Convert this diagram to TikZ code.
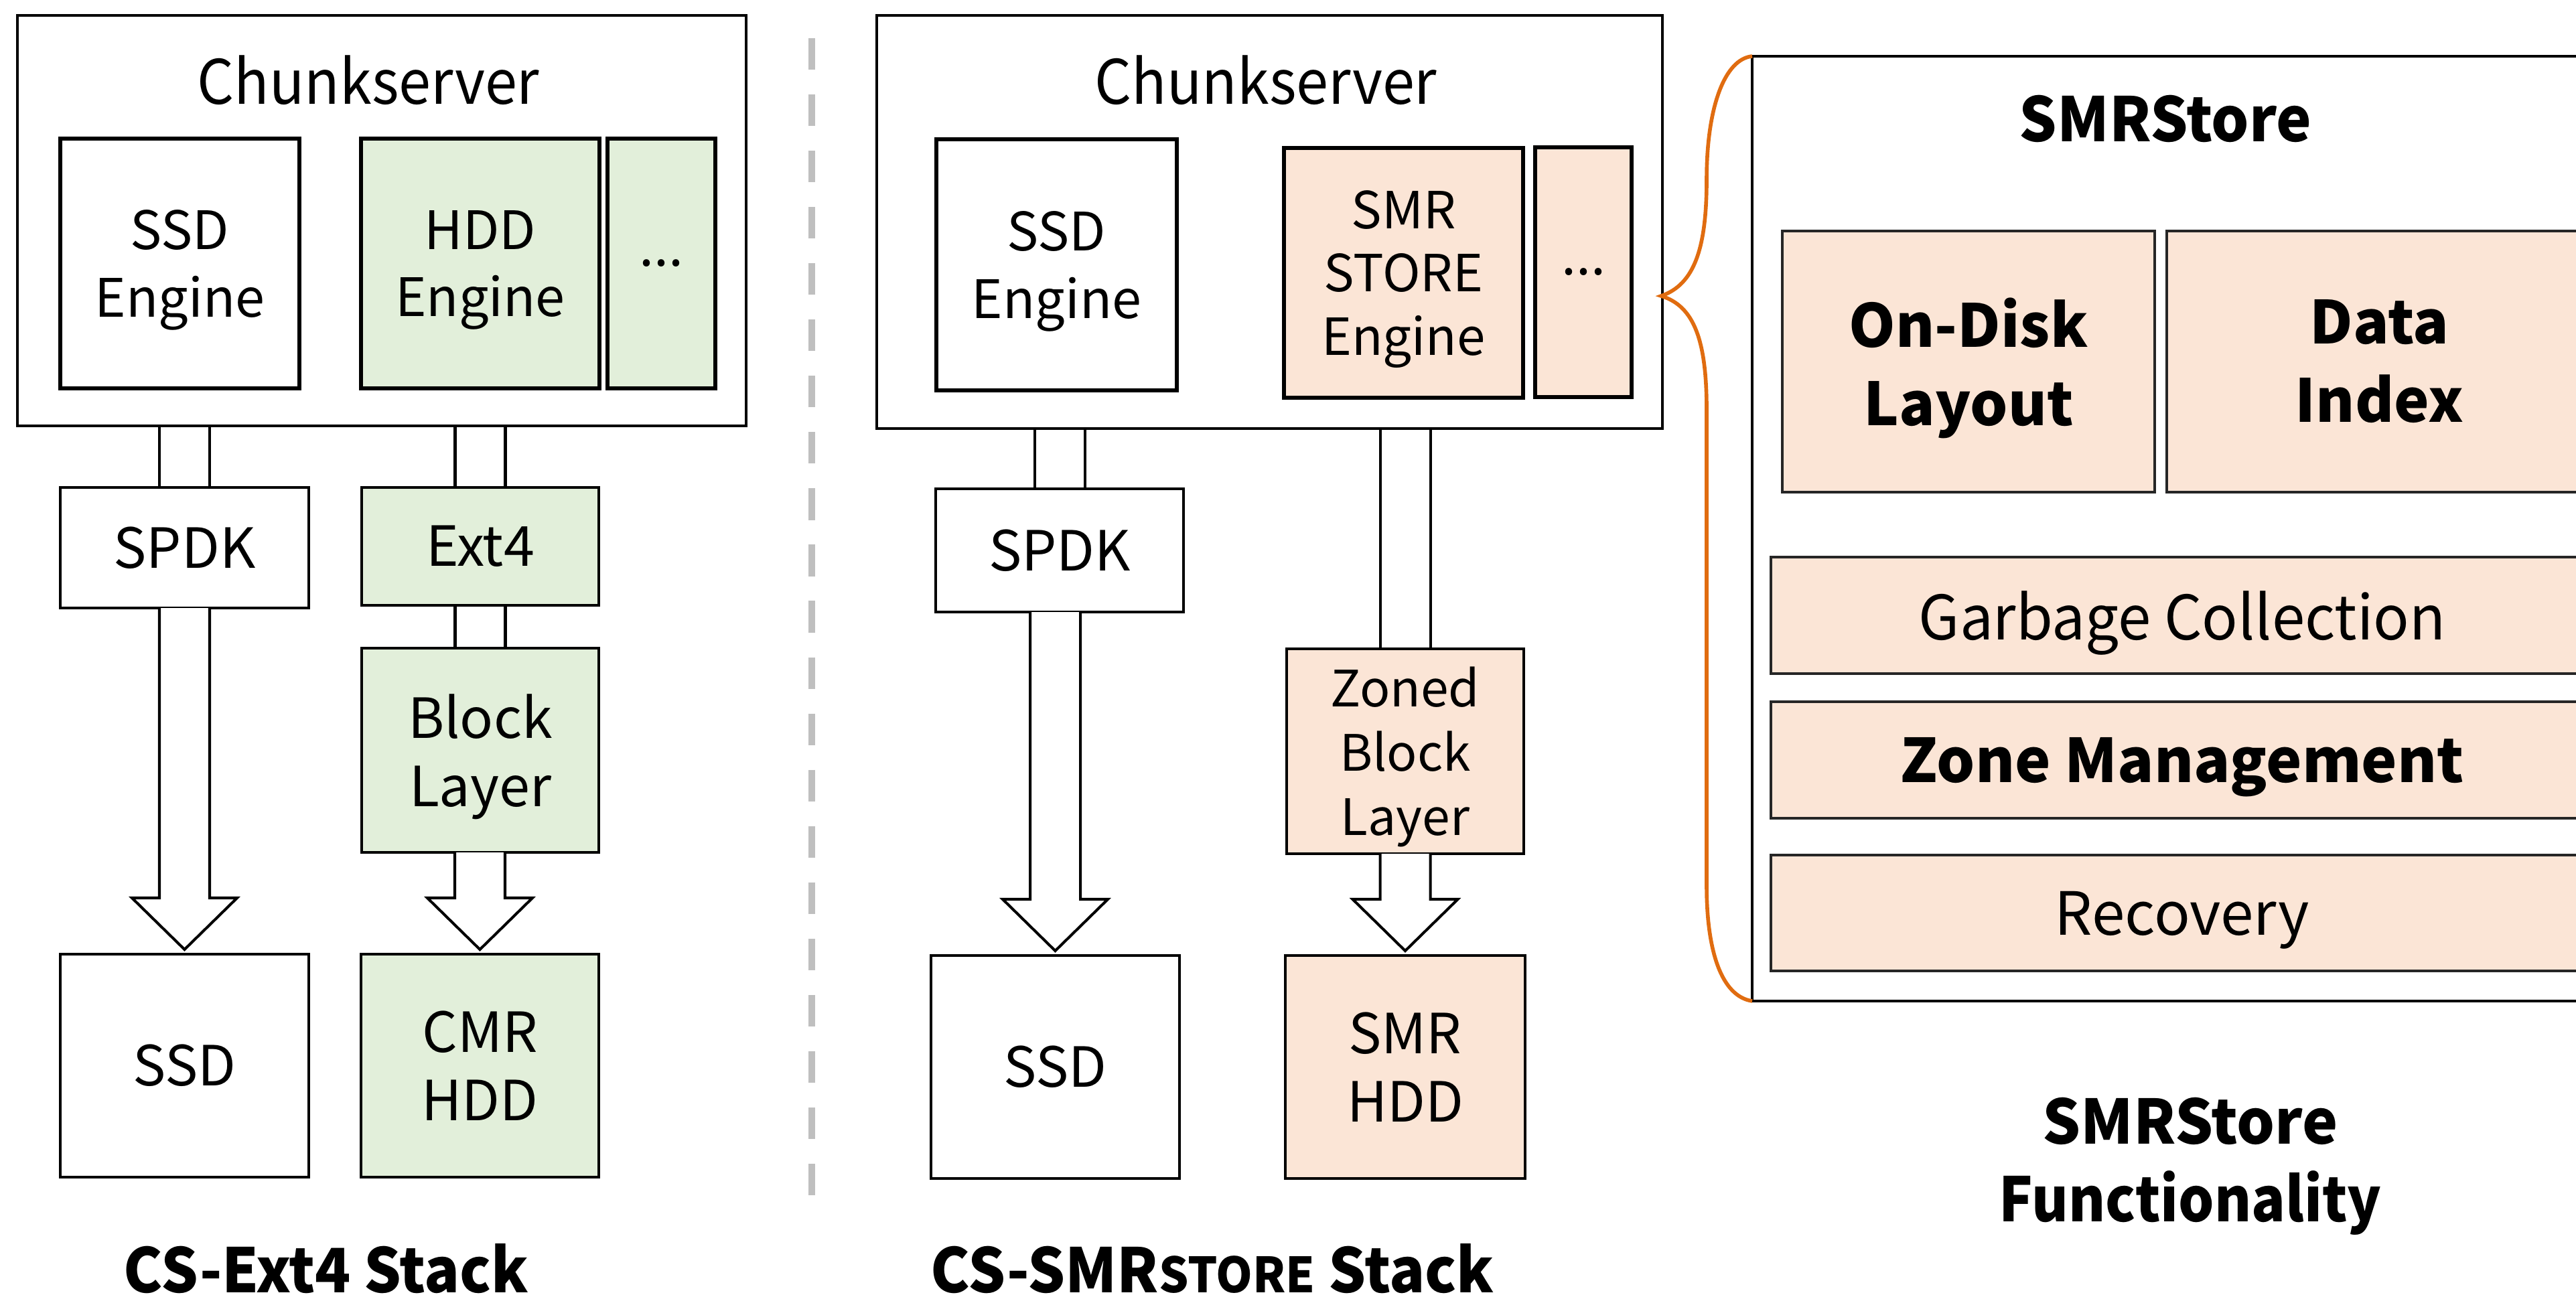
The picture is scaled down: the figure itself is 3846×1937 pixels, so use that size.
\documentclass[tikz,border=0pt]{standalone}
\usepackage{fontspec}
\setmainfont{Noto Sans CJK SC}
\usetikzlibrary{calc}

\definecolor{hddgreen}{RGB}{226,239,218}
\definecolor{smrpeach}{RGB}{251,229,214}
\definecolor{braceorange}{RGB}{224,108,16}
\definecolor{sepgray}{RGB}{191,191,191}
\definecolor{panelline}{RGB}{38,38,38}

\newcommand\fs[2]{\fontsize{#1}{#2}\selectfont}
\newcommand\narrow[2]{\scalebox{#1}[1]{#2}}

% box from corner (#2,#3) to corner (#4,#5), style #6, text #7
\newcommand\blk[7]{\node[#6,minimum width={((#4)-(#2))*0.01cm},minimum height={((#5)-(#3))*0.01cm}] (#1) at ({((#2)+(#4))/2},{((#3)+(#5))/2}) {#7};}

% two parallel lines joining the bottom of #1 to the top of #2
\newcommand\pipe[2]{%
  \draw[pipeline] ($(#1.south -| #2.north)+(-37.5,0)$) -- ($(#2.north)+(-37.5,0)$)
                  ($(#1.south -| #2.north)+(37.5,0)$) -- ($(#2.north)+(37.5,0)$);}

% hollow block arrow from the bottom of #1 to just above #2
\newcommand\fatarrow[2]{%
  \draw[blockarrow] ($(#1.south -| #2.north)+(-37.5,0)$) -- ($(#2.north)+(-37.5,-84)$)
     -- ($(#2.north)+(-78.5,-84)$) -- ($(#2.north)+(0,-7)$) -- ($(#2.north)+(78.5,-84)$)
     -- ($(#2.north)+(37.5,-84)$) -- ($(#1.south -| #2.north)+(37.5,0)$);}

\tikzset{
  every node/.style={inner sep=0pt, outer sep=0pt},
  frame/.style={draw, line width=1.3pt},
  engine/.style={draw, line width=1.6pt, align=center, font=\fs{22.5}{28.5}},
  layerbox/.style={draw, line width=1.15pt, align=center, font=\fs{23.5}{29}},
  greenfill/.style={fill=hddgreen},
  peachfill/.style={fill=smrpeach},
  featbox/.style={draw=panelline, line width=1pt, fill=smrpeach, align=center},
  desc/.style={text depth=0pt},
  pipeline/.style={line width=1.15pt},
  blockarrow/.style={line width=1.15pt, fill=white, line join=miter},
  title/.style={font=\fs{26}{30}, anchor=base},
  caption/.style={font=\bfseries\fs{26}{33}, align=center},
  separator/.style={draw=sepgray, line width=3.1pt, dash pattern=on 13.4pt off 10.5pt},
  brace/.style={draw=braceorange, line width=1.6pt},
}

\begin{document}
\begin{tikzpicture}[x=0.01cm, y=-0.01cm]
\useasboundingbox (0,0) rectangle (3846,1937);
\clip (0,0) rectangle (3846,1937);

% ---------- CS-Ext4 stack ----------
\blk{csL}{26}{23}{1114}{636}{frame}{}
\node[title] (csLt) at (550,156) {\narrow{0.945}{Chunkserver}};
\blk{ssdEngL}{90}{207}{447}{580}{engine,desc}{SSD\\Engine}
\blk{hddEngL}{539}{207}{895}{580}{engine,greenfill,desc}{HDD\\Engine}
\blk{dotsL}{907}{207}{1068}{580}{engine,greenfill}{...}
\blk{spdkL}{90}{728}{461}{908}{layerbox}{SPDK}
\blk{ext4L}{540}{728}{894}{904}{layerbox,greenfill}{Ext4}
\blk{blockL}{540}{968}{894}{1273}{layerbox,greenfill,desc}{Block\\Layer}
\blk{ssdL}{90}{1425}{461}{1758}{layerbox}{SSD}
\blk{cmrL}{539}{1425}{894}{1758}{layerbox,greenfill}{CMR\\HDD}

\pipe{csL}{spdkL}
\pipe{csL}{ext4L}
\pipe{ext4L}{blockL}
\fatarrow{spdkL}{ssdL}
\fatarrow{blockL}{cmrL}

\node[caption, anchor=base] (lblL) at (487,1930) {\narrow{0.957}{CS-Ext4 Stack}};

% ---------- separator ----------
\coordinate (sepTop) at (1212,57);
\coordinate (sepBot) at (1212,1785);
\draw[separator] (sepTop) -- (sepBot);

% ---------- CS-SMRstore stack ----------
\blk{csM}{1309}{23}{2482}{640}{frame}{}
\node[title] (csMt) at (1890,156) {\narrow{0.945}{Chunkserver}};
\blk{ssdEngM}{1398}{208}{1757}{583}{engine,desc}{SSD\\Engine}
\blk{smrEngM}{1917}{221}{2274}{594}{engine,peachfill,desc,font=\fs{21.7}{26.8}}{SMR\\STORE\\Engine}
\blk{dotsM}{2292}{220}{2436}{593}{engine,peachfill}{...}
\blk{spdkM}{1397}{730}{1767}{914}{layerbox}{SPDK}
\blk{zbl}{1921}{969}{2275}{1275}{layerbox,peachfill,desc,font=\fs{21.3}{27.3}}{Zoned\\Block\\Layer}
\blk{ssdM}{1390}{1427}{1761}{1760}{layerbox}{SSD}
\blk{smrHdd}{1919}{1427}{2277}{1760}{layerbox,peachfill}{SMR\\HDD}

\pipe{csM}{spdkM}
\pipe{csM}{zbl}
\fatarrow{spdkM}{ssdM}
\fatarrow{zbl}{smrHdd}

\node[caption, anchor=base] (lblM) at (1810,1930) {\narrow{0.963}{CS-SMR{\fs{20.6}{24}STORE} Stack}};

% ---------- SMRStore functionality ----------
\blk{panel}{2616}{84}{3900}{1495}{draw, line width=1.1pt}{}
\node[font=\bfseries\fs{26}{30}, anchor=base] (panelt) at (3233,212) {\narrow{0.97}{SMRStore}};
\blk{layout}{2661}{345}{3217}{735}{featbox,desc,font=\bfseries\fs{25.2}{33.3}}{On-Disk\\Layout}
\blk{index}{3235}{345}{3870}{735}{featbox,font=\bfseries\fs{25.2}{33.3}}{Data\\Index}
\blk{gc}{2644}{832}{3872}{1006}{featbox,desc,font=\fs{26}{30}}{\narrow{0.97}{Garbage Collection}}
\blk{zm}{2644}{1048}{3872}{1222}{featbox,desc,font=\bfseries\fs{25.6}{30}}{Zone Management}
\blk{rec}{2644}{1277}{3872}{1450}{featbox,desc,font=\fs{25.3}{30}}{Recovery}

\coordinate (bracetip) at (2480,442);
\draw[brace] (panel.north west) .. controls (2575,88) and (2548,160) .. (2548,268)
  .. controls (2548,370) and (2530,425) .. (bracetip)
  .. controls (2530,457) and (2548,510) .. (2548,612)
  -- (2548,1323) .. controls (2548,1420) and (2570,1488) .. (panel.south west);

\node[caption] (lblR) at (3270,1742) {\narrow{0.98}{SMRStore}\\\narrow{0.92}{Functionality}};
\end{tikzpicture}
\end{document}
